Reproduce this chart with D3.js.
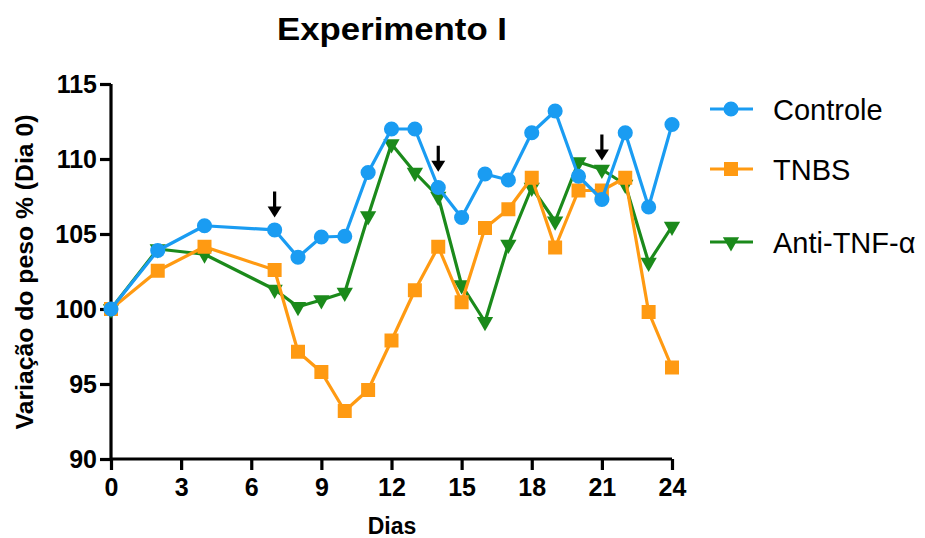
<!DOCTYPE html>
<html><head><meta charset="utf-8">
<script src="https://cdn.jsdelivr.net/npm/d3@7"></script>
<style>
body{margin:0;background:#fff;}
text{font-family:"Liberation Sans",Arial,Helvetica,sans-serif;}
</style></head>
<body>
<svg id="chart" width="925" height="538"></svg>
<script>
const days = [0,2,4,7,8,9,10,11,12,13,14,15,16,17,18,19,20,21,22,23,24];
const controle = [100,103.9,105.55,105.27,103.45,104.8,104.85,109.1,112.0,112.0,108.1,106.1,109.0,108.6,111.75,113.2,108.85,107.3,111.75,106.8,112.3];
const tnbs = [100,102.55,104.15,102.6,97.15,95.8,93.2,94.6,97.9,101.25,104.15,100.45,105.4,106.65,108.75,104.1,107.9,107.9,108.75,99.8,96.1];
const antiTNF = [100,104.0,103.65,101.3,100.15,100.6,101.1,106.2,111.0,109.1,107.5,101.6,99.15,104.3,108.1,105.85,109.8,109.3,108.3,103.1,105.5];
const seriesNames = ["Controle","TNBS","Anti-TNF-α"];
const xTicks = [0,3,6,9,12,15,18,21,24];
const yTicks = [90,95,100,105,110,115];
const arrowDays = [7,14,21];
const arrowTips = [106.1,109.15,109.9];

const colors = {"Controle":"#1a9cf2","TNBS":"#ff9a12","Anti-TNF-α":"#1b8a1b"};
const symbols = {"Controle":d3.symbolCircle,"TNBS":d3.symbolSquare,"Anti-TNF-α":d3.symbolTriangle};
const symSize = {"Controle":180,"TNBS":196,"Anti-TNF-α":115};
const symRot = {"Controle":0,"TNBS":0,"Anti-TNF-α":180};

const svg = d3.select("#chart");
const x = d3.scaleLinear().domain([0,24]).range([111,672]);
const y = d3.scaleLinear().domain([90,115]).range([459,84]);

// title
svg.append("text").attr("x",392).attr("y",39.5).attr("text-anchor","middle")
  .attr("font-size",32).attr("font-weight","bold").attr("textLength",230)
  .attr("lengthAdjust","spacingAndGlyphs").text("Experimento I");

// axes
const xAxis = svg.append("g").attr("transform","translate(0,459)")
  .call(d3.axisBottom(x).tickValues(xTicks).tickSize(11).tickPadding(8).tickFormat(d3.format("d")));
const yAxis = svg.append("g").attr("transform","translate(111,0)")
  .call(d3.axisLeft(y).tickValues(yTicks).tickSize(11).tickPadding(3).tickFormat(d3.format("d")));
[xAxis,yAxis].forEach(g=>{
  g.select(".domain").attr("stroke","#000").attr("stroke-width",3.2);
  g.selectAll(".tick line").attr("stroke","#000").attr("stroke-width",3.2);
  g.selectAll(".tick text").attr("fill","#000").attr("font-size",25).attr("font-weight","bold")
    .attr("font-family","'Liberation Sans',Arial,sans-serif");
});
// domain path: remove outer ticks from d3 path
xAxis.select(".domain").attr("d",`M${x(0)},0H${x(24)}`);
yAxis.select(".domain").attr("d",`M0,${y(90)+1.5}V${y(115)}`);

// axis labels
svg.append("text").attr("x",392).attr("y",534).attr("text-anchor","middle")
  .attr("font-size",23).attr("font-weight","bold").text("Dias");
svg.append("text").attr("transform","translate(33,272) rotate(-90)").attr("text-anchor","middle")
  .attr("font-size",23).attr("font-weight","bold").attr("textLength",315)
  .attr("lengthAdjust","spacingAndGlyphs").text("Variação do peso % (Dia 0)");

// series
const data = {"Controle":controle,"TNBS":tnbs,"Anti-TNF-α":antiTNF};
const drawOrder = ["Anti-TNF-α","TNBS","Controle"];
const line = d3.line().x((d,i)=>x(days[i])).y(d=>y(d));
drawOrder.forEach(name=>{
  const g = svg.append("g");
  g.append("path").datum(data[name]).attr("d",line).attr("fill","none")
    .attr("stroke",colors[name]).attr("stroke-width",3.2).attr("stroke-linejoin","round");
  g.selectAll("path.m").data(data[name]).enter().append("path").attr("class","m")
    .attr("d",d3.symbol().type(symbols[name]).size(symSize[name]))
    .attr("transform",(d,i)=>`translate(${x(days[i])},${y(d)}) rotate(${symRot[name]})`)
    .attr("fill",colors[name]);
});

// arrows
arrowDays.forEach((d,i)=>{
  const tx = x(d), ty = y(arrowTips[i]);
  svg.append("line").attr("x1",tx).attr("x2",tx).attr("y1",ty-26).attr("y2",ty-8)
    .attr("stroke","#000").attr("stroke-width",3.2);
  svg.append("path").attr("d",`M${tx-7},${ty-11}L${tx+7},${ty-11}L${tx},${ty}Z`).attr("fill","#000");
});

// legend
const legY = [109,169,242];
seriesNames.forEach((name,i)=>{
  const g = svg.append("g").attr("transform",`translate(0,${legY[i]})`);
  g.append("line").attr("x1",710).attr("x2",753).attr("y1",0).attr("y2",0)
    .attr("stroke",colors[name]).attr("stroke-width",3.2);
  g.append("path").attr("d",d3.symbol().type(symbols[name]).size(symSize[name]))
    .attr("transform",`translate(731,0) rotate(${symRot[name]})`).attr("fill",colors[name]);
  g.append("text").attr("x",773).attr("y",10.5).attr("font-size",29).attr("fill","#000").text(name);
});
</script>
</body></html>
